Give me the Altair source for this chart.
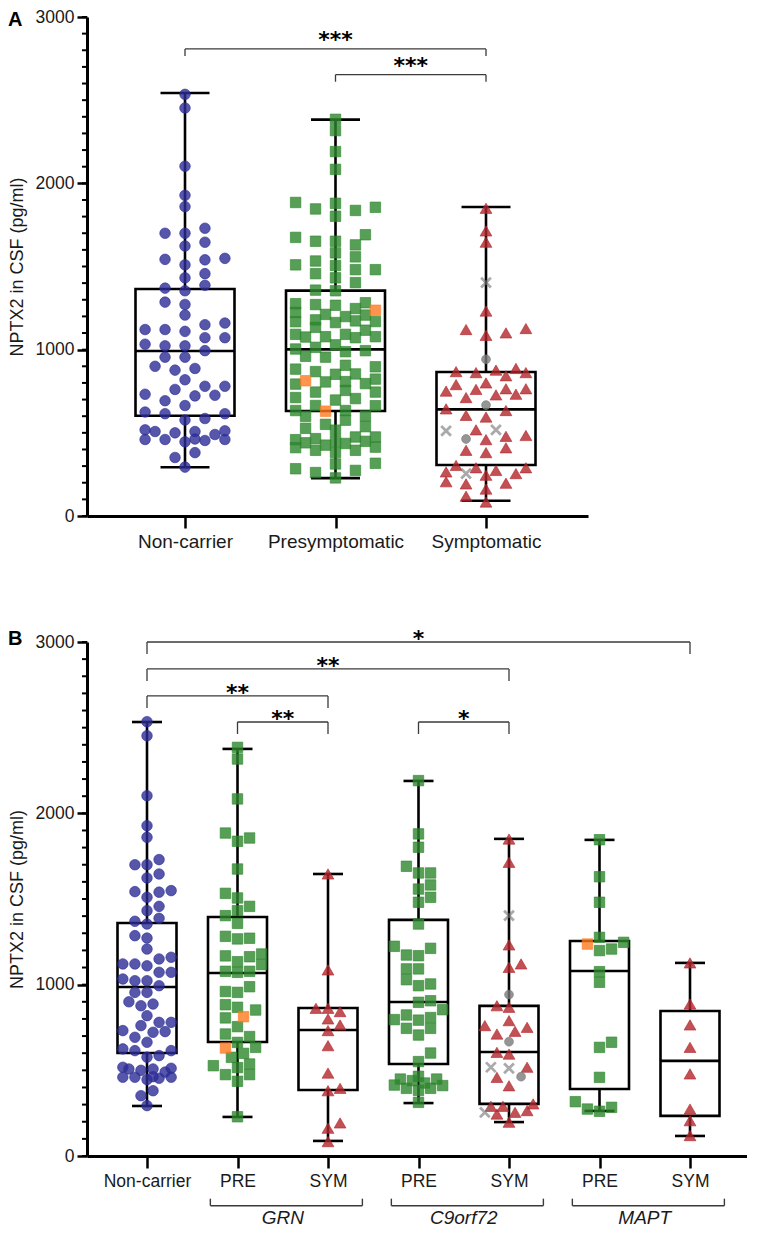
import json
import altair as alt
import pandas as pd

# ------------------------------------------------------------------ values
cats_a = ["Non-carrier", "Presymptomatic", "Symptomatic"]
cats_b = ["Non-carrier", "PRE", "SYM", "PRE", "SYM", "PRE", "SYM"]
genes = ["GRN", "C9orf72", "MAPT"]
gene_pre_idx = [1, 3, 5]
gene_sym_idx = [2, 4, 6]

non_carrier = [2535, 2453, 2103, 1928, 1860, 1700, 1700, 1730, 1623, 1646, 1549, 1543,
               1510, 1540, 1457, 1432, 1354, 1387, 1370, 1286, 1272, 1208, 1160, 1121,
               1150, 1121, 1110, 1072, 1072, 1033, 1023, 1023, 994, 955, 955, 887, 900,
               877, 819, 780, 780, 761, 726, 722, 732, 693, 664, 625, 615, 615, 586, 577,
               512, 508, 508, 518, 463, 460, 500, 490, 460, 460, 454, 446, 381, 352, 294]

grn_pre = [2385, 2317, 2084, 1885, 1837, 1856, 1675, 1533, 1506, 1457, 1432, 1403, 1358,
           1267, 1282, 1271, 1179, 1163, 1168, 1134, 1117, 1072, 1078, 1078, 988, 955,
           960, 883, 868, 852, 806, 755, 712, 697, 663, 634, 599, 576, 527, 537, 516,
           475, 475, 436, 229]
grn_pre_orange = [813, 630]
grn_sym = [1646, 1086, 862, 862, 843, 800, 765, 732, 644, 484, 381, 395, 162, 193, 84]

c9_pre = [2191, 1880, 1802, 1691, 1652, 1652, 1558, 1582, 1481, 1510, 1354, 1224, 1212,
          1169, 1173, 1092, 1092, 1029, 994, 1004, 897, 906, 854, 823, 808, 796, 793,
          745, 745, 706, 601, 551, 449, 440, 449, 465, 411, 414, 426, 395, 383, 395, 313]
c9_sym = [1850, 1714, 1232, 1101, 1121, 868, 877, 751, 761, 790, 712, 728, 595, 605, 518,
          459, 410, 304, 265, 245, 255, 290, 290, 197]
c9_sym_gray_x = [1403, 512, 518, 255]
c9_sym_gray_dot = [942, 667, 463]

mapt_pre = [1846, 1630, 1481, 1276, 1247, 1199, 1208, 1076, 1014, 634, 664, 459, 317,
            261, 274, 284]
mapt_pre_orange = [1237]
mapt_sym = [1127, 887, 765, 634, 479, 274, 206, 119]

# box statistics (min, Q1, median, Q3, max)
box_a_min = [293, 228, 92]
box_a_q1 = [603, 631, 307]
box_a_med = [992, 1002, 641]
box_a_q3 = [1365, 1355, 866]
box_a_max = [2543, 2383, 1858]

box_b_min = [292, 228, 88, 309, 198, 263, 117]
box_b_q1 = [601, 665, 385, 537, 304, 391, 234]
box_b_med = [986, 1068, 735, 899, 607, 1080, 555]
box_b_q3 = [1360, 1395, 864, 1378, 876, 1255, 846]
box_b_max = [2533, 2376, 1646, 2189, 1851, 1845, 1127]

sig_a_from = [0, 1]
sig_a_to = [2, 2]
sig_a_text = ["***", "***"]
sig_b_from = [0, 0, 0, 1, 3]
sig_b_to = [6, 4, 2, 2, 4]
sig_b_text = ["*", "**", "**", "**", "*"]

# ------------------------------------------------------------------ layout
W_A, H_A = 501, 499
W_B, H_B = 660, 514
UX_A, C0_A = 150.5, 98.0   # px per category, px of first category
UX_B, C0_B = 90.5, 60.0
PY_A = H_A / 3000.0
PY_B = H_B / 3000.0
XDOM_A = [-C0_A / UX_A, (W_A - C0_A) / UX_A]
XDOM_B = [-C0_B / UX_B, (W_B - C0_B) / UX_B]

FONT = "Liberation Sans"
STAR_FONT = "DejaVu Sans"
INK = "#1a1a1a"

# bracket levels (layout, in axis units) for significance annotations
lvl_a = [2808, 2653]
lvl_b = [3000, 2843, 2685, 2533, 2533]


def swarm(vals, py, d, fx, maxw):
    order = sorted(range(len(vals)), key=lambda k: vals[k])
    placed = []
    offs = [0.0] * len(vals)
    step = d * fx * 0.5
    M = int(maxw // step)
    cand = [0] + [s * m for m in range(1, M + 1) for s in (1, -1)]
    for n, k in enumerate(order):
        y = vals[k] * py
        sgn = 1 if n % 2 == 0 else -1
        chosen, bestx, bestd = None, 0.0, -1.0
        for m in cand:
            x = m * step * sgn
            md = min([((x - xp) / fx) ** 2 + (y - yp) ** 2 for xp, yp in placed] or [1e9])
            if md >= d * d:
                chosen = x
                break
            if md > bestd:
                bestd, bestx = md, x
        if chosen is None:
            chosen = bestx
        placed.append((chosen, y))
        offs[k] = chosen
    return offs


def make_points(groups, py, ux, d, fx, maxw):
    rows = []
    for ci, items in groups:
        vals = [v for v, _ in items]
        offs = swarm(vals, py, d, fx, maxw)
        for (v, kind), o in zip(items, offs):
            rows.append({"x": ci + o / ux, "v": v, "kind": kind})
    return pd.DataFrame(rows)


def tag(lst, kind):
    return [(v, kind) for v in lst]


pre_all = (tag(grn_pre, "pre") + tag(grn_pre_orange, "org") + tag(c9_pre, "pre")
           + tag(mapt_pre, "pre") + tag(mapt_pre_orange, "org"))
sym_all = (tag(grn_sym, "sym") + tag(c9_sym, "sym") + tag(c9_sym_gray_x, "gx")
           + tag(c9_sym_gray_dot, "gd") + tag(mapt_sym, "sym"))

pts_a = make_points([(0, tag(non_carrier, "nc")), (1, pre_all), (2, sym_all)],
                    PY_A, UX_A, 10.5, 1.9, 46)
pts_b = make_points([
    (0, tag(non_carrier, "nc")),
    (1, tag(grn_pre, "pre") + tag(grn_pre_orange, "org")),
    (2, tag(grn_sym, "sym")),
    (3, tag(c9_pre, "pre")),
    (4, tag(c9_sym, "sym") + tag(c9_sym_gray_x, "gx") + tag(c9_sym_gray_dot, "gd")),
    (5, tag(mapt_pre, "pre") + tag(mapt_pre_orange, "org")),
    (6, tag(mapt_sym, "sym")),
], PY_B, UX_B, 10.5, 1.15, 25)


def box_frame(mins, q1, med, q3, maxs, ux, box_hw_px, cap_hw_px):
    n = len(mins)
    return pd.DataFrame({
        "i": list(range(n)), "lo": mins, "q1": q1, "med": med, "q3": q3, "hi": maxs,
        "b1": [i - box_hw_px / ux for i in range(n)],
        "b2": [i + box_hw_px / ux for i in range(n)],
        "c1": [i - cap_hw_px / ux for i in range(n)],
        "c2": [i + cap_hw_px / ux for i in range(n)],
    })


def sig_frame(f, t, txt, lvl, py, drop_px, star_px):
    return pd.DataFrame({
        "a": f, "b": t, "t": txt, "lvl": lvl,
        "drop": [l - drop_px / py for l in lvl],
        "mid": [(x + y) / 2 for x, y in zip(f, t)],
        "sy": [l + star_px / py for l in lvl],
    })


STYLE = {
    "nc": dict(shape="circle", color="#2c2c96", size=112),
    "pre": dict(shape="square", color="#2d862d", size=110),
    "org": dict(shape="square", color="#ff7a21", size=110),
    "sym": dict(shape="triangle-up", color="#b3262b", size=140),
    "gd": dict(shape="circle", color="#7a7a7a", size=78),
}


def build_panel(pts, box, sig, W, H, xdom, cats, label_size, letter, star_dy,
                letter_y, extra_layers=None):
    xaxis = alt.Axis(values=list(range(len(cats))),
                     labelExpr=json.dumps(cats) + "[datum.value]",
                     tickSize=12, tickWidth=2.5, domainWidth=3, labelFontSize=label_size,
                     labelPadding=4, labelFlush=False, labelOverlap=False, title=None,
                     grid=False, labelFont=FONT, labelColor=INK)
    yaxis = alt.Axis(values=[0, 1000, 2000, 3000], format="d", tickSize=10, tickWidth=2.5,
                     domainWidth=3, labelFontSize=17.5, labelPadding=3,
                     title="NPTX2 in CSF (pg/ml)", titleFontSize=18,
                     titleFontWeight="normal", titlePadding=9, grid=False,
                     labelFont=FONT, titleFont=FONT, labelColor=INK, titleColor=INK,
                     labelOverlap=False)
    xs = alt.Scale(domain=xdom, nice=False, zero=False)
    ys = alt.Scale(domain=[0, 3000], nice=False, zero=False)

    def X(f):
        return alt.X(f, type="quantitative", scale=xs, axis=xaxis)

    def Y(f):
        return alt.Y(f, type="quantitative", scale=ys, axis=yaxis)

    bb = alt.Chart(box)
    layers = [
        bb.mark_rect(fillOpacity=0, stroke="black", strokeWidth=2.6).encode(
            x=X("b1"), x2="b2", y=Y("q1"), y2="q3"),
        bb.mark_rule(color="black", strokeWidth=2.6).encode(x=X("b1"), x2="b2", y=Y("med")),
        bb.mark_rule(color="black", strokeWidth=2.6).encode(x=X("i"), y=Y("lo"), y2="q1"),
        bb.mark_rule(color="black", strokeWidth=2.6).encode(x=X("i"), y=Y("q3"), y2="hi"),
        bb.mark_rule(color="black", strokeWidth=2.6).encode(x=X("c1"), x2="c2", y=Y("lo")),
        bb.mark_rule(color="black", strokeWidth=2.6).encode(x=X("c1"), x2="c2", y=Y("hi")),
    ]
    for kind in ["nc", "pre", "sym", "org", "gd"]:
        st = STYLE[kind]
        sub = pts[pts.kind == kind]
        if len(sub) == 0:
            continue
        layers.append(alt.Chart(sub).mark_point(
            filled=True, shape=st["shape"], size=st["size"], fill=st["color"],
            fillOpacity=0.8, stroke=st["color"], strokeOpacity=0.6, strokeWidth=1
        ).encode(x=X("x"), y=Y("v")))
    sub = pts[pts.kind == "gx"]
    if len(sub):
        layers.append(alt.Chart(sub).mark_point(
            filled=False, shape="M-1,-1L1,1M1,-1L-1,1", size=95, stroke="#7a7a7a",
            strokeWidth=2.8, strokeOpacity=0.9
        ).encode(x=X("x"), y=Y("v")))

    # minor ticks on the value axis
    minor = pd.DataFrame({"m": list(range(0, 3001, 100))})
    layers.append(alt.Chart(minor).mark_rule(color="black", strokeWidth=2).encode(
        y=Y("m"), x=alt.value(-5), x2=alt.value(0)))

    # significance brackets
    sb = alt.Chart(sig)
    layers += [
        sb.mark_rule(color="#3a3a3a", strokeWidth=1.3).encode(x=X("a"), x2="b", y=Y("lvl")),
        sb.mark_rule(color="#3a3a3a", strokeWidth=1.3).encode(x=X("a"), y=Y("lvl"), y2="drop"),
        sb.mark_rule(color="#3a3a3a", strokeWidth=1.3).encode(x=X("b"), y=Y("lvl"), y2="drop"),
        sb.mark_text(font=STAR_FONT, fontWeight="bold", fontSize=22, color="black",
                     baseline="alphabetic", align="center", dy=star_dy).encode(
            x=X("mid"), y=Y("sy"), text="t:N"),
    ]
    if extra_layers is not None:
        layers += list(extra_layers(X, Y))

    layers.append(alt.Chart(alt.Data(values=[{"t": letter}])).mark_text(
        font=FONT, fontWeight="bold", fontSize=20, color="black", align="left",
        baseline="middle").encode(text="t:N", x=alt.value(-79), y=alt.value(letter_y)))

    return alt.layer(*layers).properties(width=W, height=H)


box_a = box_frame(box_a_min, box_a_q1, box_a_med, box_a_q3, box_a_max, UX_A, 49.5, 24.5)
box_b = box_frame(box_b_min, box_b_q1, box_b_med, box_b_q3, box_b_max, UX_B, 29.5, 15)
sig_a = sig_frame(sig_a_from, sig_a_to, sig_a_text, lvl_a, PY_A, 7, 14.5)
sig_b = sig_frame(sig_b_from, sig_b_to, sig_b_text, lvl_b, PY_B, 12, 9)

genes_df = pd.DataFrame({
    "g": genes,
    "g1": [p - 0.3 for p in gene_pre_idx],
    "g2": [s + 0.38 for s in gene_sym_idx],
    "gm": [(p + s) / 2 for p, s in zip(gene_pre_idx, gene_sym_idx)],
    "gy": [-290] * 3,
    "gy2": [-249] * 3,
    "ty": [-362] * 3,
})


def gene_layers(X, Y):
    gb = alt.Chart(genes_df)
    return [
        gb.mark_rule(color="#3a3a3a", strokeWidth=1.4).encode(x=X("g1"), x2="g2", y=Y("gy")),
        gb.mark_rule(color="#3a3a3a", strokeWidth=1.4).encode(x=X("g1"), y=Y("gy"), y2="gy2"),
        gb.mark_rule(color="#3a3a3a", strokeWidth=1.4).encode(x=X("g2"), y=Y("gy"), y2="gy2"),
        gb.mark_text(font=FONT, fontStyle="italic", fontSize=19, color=INK,
                     baseline="middle").encode(x=X("gm"), y=Y("ty"), text="g:N"),
    ]


panel_a = build_panel(pts_a, box_a, sig_a, W_A, H_A, XDOM_A, cats_a, 19, "A", 13, 3)
panel_b = build_panel(pts_b, box_b, sig_b, W_B, H_B, XDOM_B, cats_b, 17.5, "B", 13, -3,
                      extra_layers=gene_layers)

chart = alt.vconcat(panel_a, panel_b, spacing=77).properties(
    padding={"left": 0, "top": 0, "right": 0, "bottom": 0}
).configure_view(stroke=None).configure_axis(grid=False, domainColor="black",
                                             tickColor="black")

chart.save("out.html", embed_options={"renderer": "svg", "actions": False})
